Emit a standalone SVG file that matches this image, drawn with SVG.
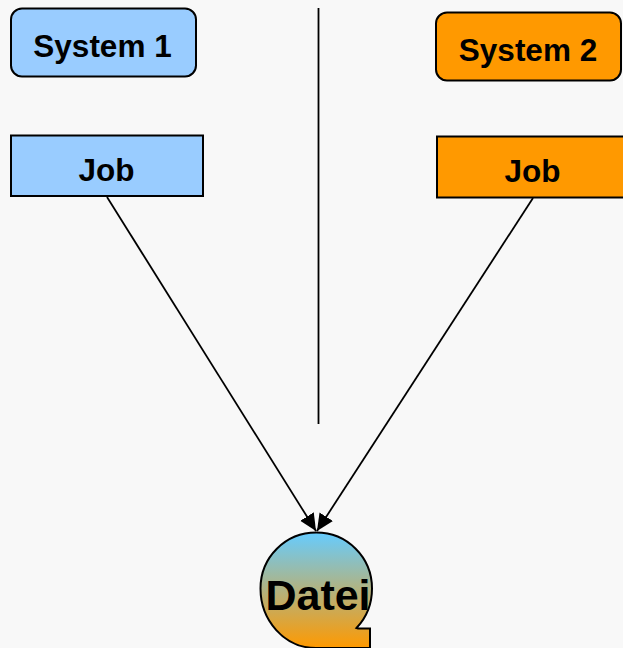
<svg xmlns="http://www.w3.org/2000/svg" width="623" height="648" viewBox="0 0 623 648">
<style>
.n{stroke:#000;stroke-width:2}
.b{fill:#99ccff}
.o{fill:#ff9900}
.c{stroke:#000;stroke-width:1.800;fill:none}
text{font-family:"Liberation Sans",Arial,sans-serif;font-weight:bold;fill:#000;text-anchor:middle}
.t{font-size:31.500px}
.d{font-size:43px}
</style>
<defs>
<linearGradient id="g" x1="0" y1="0" x2="0" y2="1"><stop offset="0" stop-color="#66ccff"/><stop offset="1" stop-color="#ff9900"/></linearGradient>
<marker id="a" markerUnits="userSpaceOnUse" markerWidth="20" markerHeight="20" refX="17" refY="10" orient="auto"><path d="M0,2 L17,10 L0,18 Z" fill="#000"/></marker>
</defs>
<rect width="623" height="648" fill="#f8f8f8"/>
<g id="connectors">
<line class="c" x1="318.500" y1="8" x2="318.500" y2="424"/>
<line class="c" x1="107" y1="197" x2="316" y2="531" marker-end="url(#a)"/>
<line class="c" x1="533" y1="198" x2="317" y2="531" marker-end="url(#a)"/>
</g>
<g id="system1"><rect class="n b" x="11" y="8.500" width="185" height="68" rx="11"/><text class="t" x="102.500" y="56.500">System 1</text></g>
<g id="job1"><rect class="n b" x="11" y="135.500" width="192" height="60.500"/><text class="t" x="106.500" y="181">Job</text></g>
<g id="system2"><rect class="n o" x="436" y="12.500" width="185" height="68" rx="11"/><text class="t" x="528" y="60.500">System 2</text></g>
<g id="job2"><rect class="n o" x="437" y="136.500" width="190" height="61"/><text class="t" x="532.500" y="182">Job</text></g>
<g id="datei"><path d="M370,648 V628.500 H358 L356.500,628 C366,618 372,604 372,588.500 C372,557 347,532.500 316.250,532.500 C285.500,532.500 260.500,557 260.500,588.500 C260.500,620 284,648 316,648 Z" fill="url(#g)" stroke="#000" stroke-width="2"/><text class="d" x="318" y="610">Datei</text></g>
</svg>
